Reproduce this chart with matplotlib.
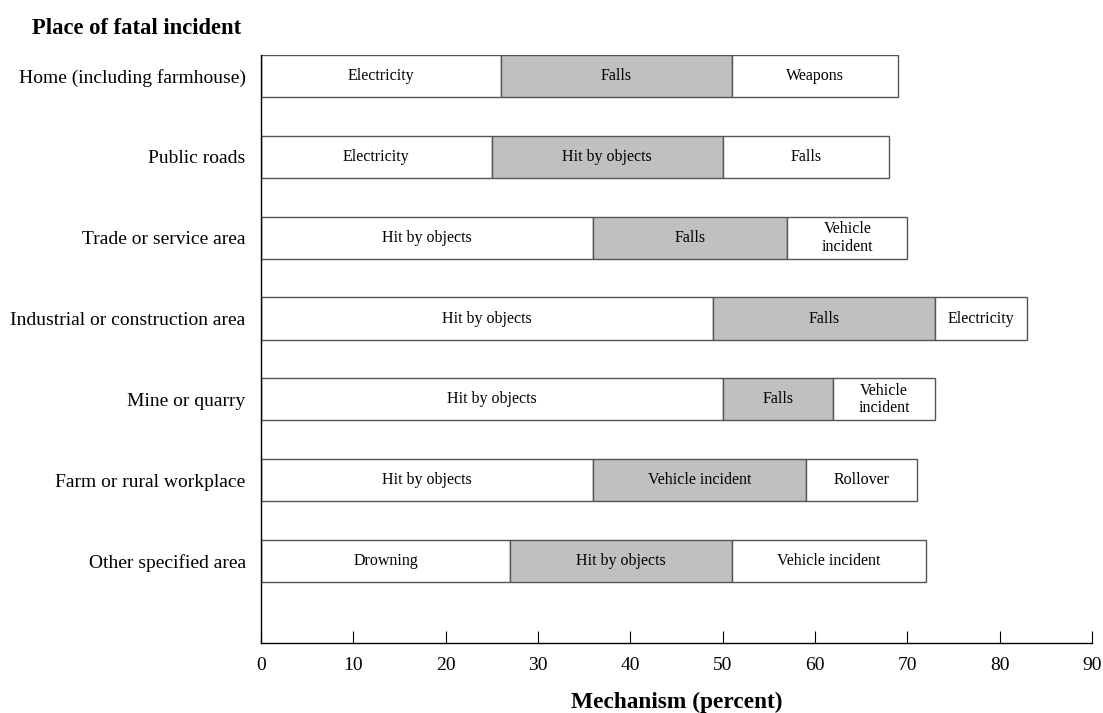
import matplotlib.pyplot as plt

plt.rcParams['font.family'] = ['Liberation Serif', 'DejaVu Serif']

places = ['Home (including farmhouse)', 'Public roads', 'Trade or service area',
          'Industrial or construction area', 'Mine or quarry',
          'Farm or rural workplace', 'Other specified area']

# percent for first, second and third mechanism of each place
first = [26, 25, 36, 49, 50, 36, 27]
second = [25, 25, 21, 24, 12, 23, 24]
third = [18, 18, 13, 10, 11, 12, 21]

first_lbl = ['Electricity', 'Electricity', 'Hit by objects', 'Hit by objects',
             'Hit by objects', 'Hit by objects', 'Drowning']
second_lbl = ['Falls', 'Hit by objects', 'Falls', 'Falls', 'Falls',
              'Vehicle incident', 'Hit by objects']
third_lbl = ['Weapons', 'Falls', 'Vehicle\nincident', 'Electricity',
             'Vehicle\nincident', 'Rollover', 'Vehicle incident']

fig = plt.figure(figsize=(11.03, 7.13), dpi=100)
ax = fig.add_axes([0.2366, 0.0982, 0.7534, 0.825])

ypos = list(range(len(places)))
edge = '#555555'
h = 0.52
left2 = [a for a in first]
left3 = [a + b for a, b in zip(first, second)]

b1 = ax.barh(ypos, first, height=h, color='white', edgecolor=edge, linewidth=1)
b2 = ax.barh(ypos, second, left=left2, height=h, color='#c0c0c0', edgecolor=edge, linewidth=1)
b3 = ax.barh(ypos, third, left=left3, height=h, color='white', edgecolor=edge, linewidth=1)

for bars, labels in [(b1, first_lbl), (b2, second_lbl), (b3, third_lbl)]:
    ax.bar_label(bars, labels=labels, label_type='center', fontsize=11.5,
                 linespacing=1.15)

ax.set_xlim(0, 90)
ax.set_ylim(7.01, -0.26)
ax.set_xticks(range(0, 91, 10))
ax.set_yticks(ypos)
ax.set_yticklabels(places, fontsize=14)
ax.tick_params(axis='y', length=0, pad=11)
ax.tick_params(axis='x', direction='in', length=9, width=0.8, labelsize=14, pad=10)

ax.spines['top'].set_visible(False)
ax.spines['right'].set_visible(False)
ax.spines['left'].set_linewidth(1)
ax.spines['bottom'].set_linewidth(1)

ax.set_xlabel('Mechanism (percent)', fontsize=16.8, fontweight='bold', labelpad=13)
fig.text(32 / 1103, 1 - 28 / 713, 'Place of fatal incident', fontsize=16.3,
         fontweight='bold', ha='left', va='center')

fig.savefig('out.png', dpi=100)
